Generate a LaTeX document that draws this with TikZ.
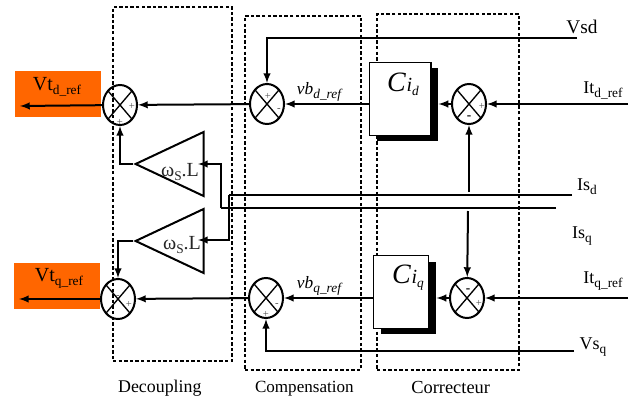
\documentclass[tikz,border=0pt]{standalone}
\usepackage{fontspec}
\setmainfont{Liberation Serif}
\usepackage{xcolor}
\usepackage{tikz}
\usetikzlibrary{fit}
\usetikzlibrary{positioning}
\usetikzlibrary{shapes.geometric}
\definecolor{outorange}{rgb}{1.0, 0.4, 0.0}
\tikzset{%
  sumnode/.style={ellipse,draw,line width=1.5pt,minimum width=25.5pt,minimum height=30pt,inner sep=0pt,
    path picture={\draw[line width=1pt] (path picture bounding box.north west) -- (path picture bounding box.south east)
      (path picture bounding box.north east) -- (path picture bounding box.south west);}}
}
\tikzset{%
  dashbox/.style={rectangle,draw,dash pattern=on 2.6pt off 1.6pt,line width=0.8pt,inner sep=0pt}
}
\tikzset{%
  wire/.style={line width=1.5pt},
  arrowwire/.style={line width=1.5pt,-latex}
}
\tikzset{%
  gainnode/.style={isosceles triangle,isosceles triangle stretches,shape border rotate=180,draw,line width=1.5pt,
    minimum width=48pt,minimum height=51pt,inner sep=0pt}
}
\tikzset{%
  outbox/.style={rectangle,fill=outorange,minimum width=64.5pt,minimum height=34pt,inner sep=0pt},
  blockbox/.style={rectangle,draw,fill=white,line width=1pt,inner sep=0pt},
  blockshadow/.style={rectangle,fill=black,inner sep=0pt},
  signnode/.style={inner sep=0pt,font=\fontsize{8}{8}\selectfont,text=black!70}
}
\newcommand\lowtext[1]{\raisebox{-3pt}{\fontsize{10}{10}\selectfont #1}}
\newcommand\mainsize{\fontsize{13.5}{14}\selectfont}
\newcommand\bigsize{\fontsize{15}{15}\selectfont}
\begin{document}
\begin{tikzpicture}[x=0.75pt,y=-0.75pt,node distance=1mm]
            \useasboundingbox (0,0) rectangle (629,400);
            % frames
            \coordinate (decnw) at (113,7);
            \coordinate (decse) at (232,361);
            \coordinate (compnw) at (245,16);
            \coordinate (compse) at (361,370);
            \coordinate (corrnw) at (377,14);
            \coordinate (corrse) at (519,370);
            \node[dashbox,fit=(decnw)(decse)](decbox){};
            \node[dashbox,fit=(compnw)(compse)](compbox){};
            \node[dashbox,fit=(corrnw)(corrse)](corrbox){};
            \node[below=14pt of decbox,inner sep=0pt,font=\fontsize{13.4}{13.4}\selectfont,xshift=-9.5pt](declabel){Decoupling};
            \node[below=6pt of compbox,inner sep=2pt,font=\fontsize{12.8}{12.8}\selectfont,xshift=1pt](complabel){Compensation};
            \node[below=6pt of corrbox,inner sep=2pt,font=\fontsize{13.8}{13.8}\selectfont,xshift=2pt](corrlabel){Correcteur};

            % outputs
            \node[outbox,anchor=north west](vtd) at (15,71){};
            \node[outbox,anchor=north west](vtq) at (14,263){};
            \node[font=\bigsize](vtdlabel) at (57,87){Vt\lowtext{d\_ref}};
            \node[font=\bigsize](vtqlabel) at (59,278){Vt\lowtext{q\_ref}};
            \coordinate (vtdend) at (20,106);
            \coordinate (vtqend) at (19,299);

            % summers
            \node[sumnode](sumdecd) at (120,105){};
            \node[sumnode](sumdecq) at (118,299){};
            \node[sumnode](sumcompd) at (267,104){};
            \node[sumnode](sumcompq) at (266,298){};
            \node[sumnode](sumcorrd) at (469,104){};
            \node[sumnode](sumcorrq) at (467,298){};

            \node[signnode](s1) at (132,106){+};
            \node[signnode](s2) at (120,122){+};
            \node[signnode](s3) at (118,297){-};
            \node[signnode](s4) at (129,304){+};
            \node[signnode](s5) at (268,96){+};
            \node[signnode](s6) at (279,110){-};
            \node[signnode](s7) at (277,305){-};
            \node[signnode](s8) at (266,314){+};
            \node[signnode](s9) at (482,106){+};
            \node[signnode,text=black,font=\bfseries\fontsize{10}{10}\selectfont](s10) at (469,118){-};
            \node[signnode,text=black,font=\bfseries\fontsize{10}{10}\selectfont](s11) at (468,291){-};
            \node[signnode](s12) at (479,303){+};

            % correctors
            \node[blockshadow,anchor=north west,minimum width=45.75pt,minimum height=54.75pt](cidshadow) at (377,68){};
            \node[blockbox,anchor=north west,minimum width=46pt,minimum height=54.75pt](cid) at (369,62){};
            \node[font=\itshape\fontsize{21}{21}\selectfont](cidlabel) at (403,84){C\kern0.5pt\fontsize{15}{15}\selectfont i\lowtext{d}};
            \node[blockshadow,anchor=north west,minimum width=41.25pt,minimum height=54pt](ciqshadow) at (381,262){};
            \node[blockbox,anchor=north west,minimum width=41.25pt,minimum height=54.75pt](ciq) at (373,255){};
            \node[font=\itshape\fontsize{21}{21}\selectfont](ciqlabel) at (408,278){C\kern0.5pt\fontsize{15}{15}\selectfont i\lowtext{q}};

            % gains
            \node[gainnode,anchor=apex](gaind) at (133,164){};
            \node[gainnode,anchor=apex](gainq) at (133,241){};
            \node[font=\bigsize,text=black!85](gaindlabel) at (180,172){ω\lowtext{S}.L};
            \node[font=\bigsize,text=black!85](gainqlabel) at (182,245){ω\lowtext{S}.L};

            % end points
            \coordinate (vsdstart) at (577,38);
            \coordinate (vsqstart) at (574,351);
            \coordinate (itdstart) at (628,104);
            \coordinate (itqstart) at (628,298);
            \coordinate (isdend) at (572,195);
            \coordinate (isqend) at (556,208);
            \coordinate (isdbus) at (229,195);
            \coordinate (isqbus) at (221,208);
            \coordinate (gaindin) at (198,164);
            \coordinate (gainqin) at (198,240);
            \coordinate (isdtap) at (469,192);
            \coordinate (isqtap) at (468,211);

            % wires
            \draw[arrowwire] (sumdecd) -- (vtdend);
            \draw[arrowwire] (sumdecq) -- (vtqend);
            \draw[arrowwire] (sumcompd) -- (sumdecd);
            \draw[arrowwire] (sumcompq) -- (sumdecq);
            \draw[arrowwire] (cid.west |- sumcompd) -- (sumcompd);
            \draw[arrowwire] (ciq.west |- sumcompq) -- (sumcompq);
            \draw[arrowwire] (sumcorrd) -- (sumcorrd -| cidshadow.east);
            \draw[arrowwire] (sumcorrq) -- (sumcorrq -| ciqshadow.east);
            \draw[arrowwire] (itdstart) -- (sumcorrd);
            \draw[arrowwire] (itqstart) -- (sumcorrq);
            \draw[arrowwire] (vsdstart) -| (sumcompd);
            \draw[arrowwire] (vsqstart) -| (sumcompq);
            \draw[arrowwire] (isdtap) -- (sumcorrd);
            \draw[arrowwire] (isqtap) -- (sumcorrq);
            \draw[arrowwire] (gaind.apex) -| (sumdecd);
            \draw[arrowwire] (gainq.apex) -| (sumdecq);
            \draw[wire] (isdend) -- (isdbus);
            \draw[arrowwire] (isdbus) |- (gainqin);
            \draw[wire] (isqend) -- (isqbus);
            \draw[arrowwire] (isqbus) |- (gaindin);

            % signal labels
            \node[font=\fontsize{14.5}{14.5}\selectfont](vsdlabel) at (582,27){Vsd};
            \node[font=\mainsize](vsqlabel) at (593,347){Vs\lowtext{q}};
            \node[font=\mainsize](itdlabel) at (603,90){It\lowtext{d\_ref}};
            \node[font=\mainsize](itqlabel) at (603,281){It\lowtext{q\_ref}};
            \node[font=\mainsize](isdlabel) at (587,187){Is\lowtext{d}};
            \node[font=\mainsize](isqlabel) at (582,236){Is\lowtext{q}};
            \node[font=\itshape\fontsize{13}{13}\selectfont](vbdlabel) at (319,92){vb\lowtext{d\_ref}};
            \node[font=\itshape\fontsize{13}{13}\selectfont](vbqlabel) at (319,286){vb\lowtext{q\_ref}};
        \end{tikzpicture}
\end{document}
